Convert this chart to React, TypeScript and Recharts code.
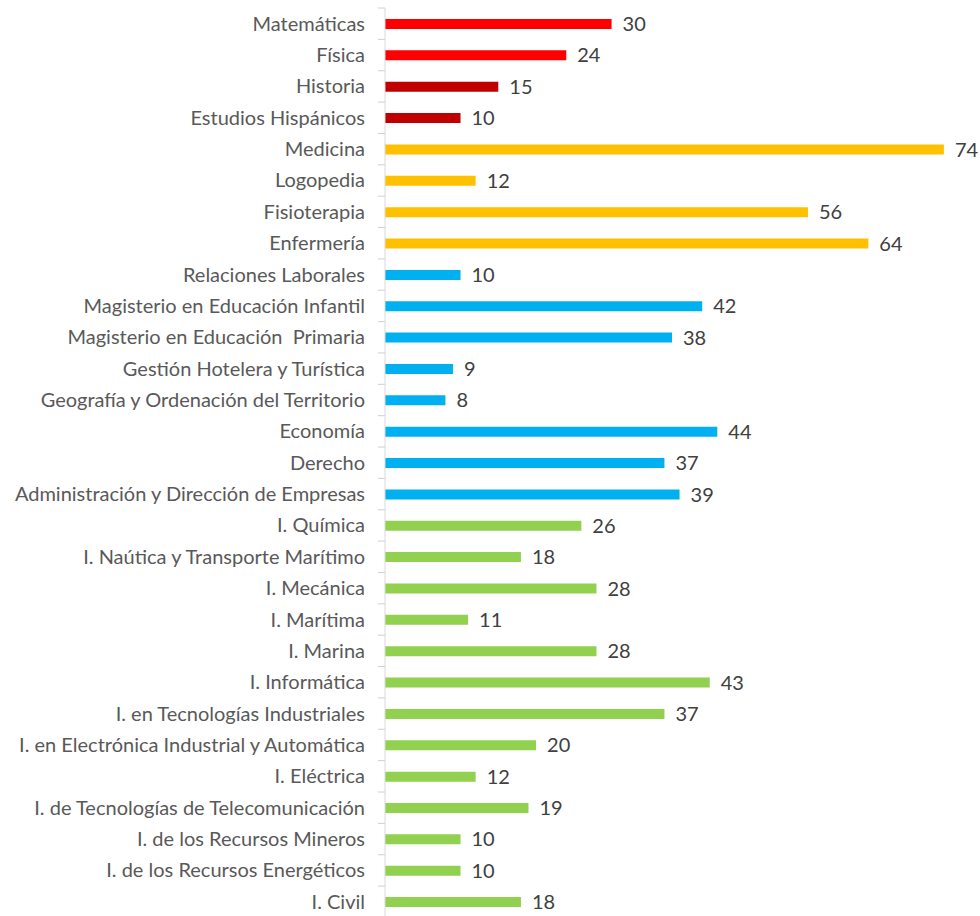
import { BarChart, Bar, XAxis, YAxis, Cell, LabelList } from 'recharts'

const categories = [
  'Matemáticas',
  'Física',
  'Historia',
  'Estudios Hispánicos',
  'Medicina',
  'Logopedia',
  'Fisioterapia',
  'Enfermería',
  'Relaciones Laborales',
  'Magisterio en Educación Infantil',
  'Magisterio en Educación  Primaria',
  'Gestión Hotelera y Turística',
  'Geografía y Ordenación del Territorio',
  'Economía',
  'Derecho',
  'Administración y Dirección de Empresas',
  'I. Química',
  'I. Naútica y Transporte Marítimo',
  'I. Mecánica',
  'I. Marítima',
  'I. Marina',
  'I. Informática',
  'I. en Tecnologías Industriales',
  'I. en Electrónica Industrial y Automática',
  'I. Eléctrica',
  'I. de Tecnologías de Telecomunicación',
  'I. de los Recursos Mineros',
  'I. de los Recursos Energéticos',
  'I. Civil',
]

const values = [30, 24, 15, 10, 74, 12, 56, 64, 10, 42, 38, 9, 8, 44, 37, 39, 26, 18, 28, 11, 28, 43, 37, 20, 12, 19, 10, 10, 18]

// area per category: ciencias, humanidades, salud, sociales, ingenierías
const groups = ['c', 'c', 'h', 'h', 's', 's', 's', 's', 'j', 'j', 'j', 'j', 'j', 'j', 'j', 'j',
  'i', 'i', 'i', 'i', 'i', 'i', 'i', 'i', 'i', 'i', 'i', 'i', 'i']

const groupColors: Record<string, string> = {
  c: '#FF0000',
  h: '#C00000',
  s: '#FFC000',
  j: '#00B0F0',
  i: '#92D050',
}

const data = categories.map((name, i) => ({ name, value: values[i], group: groups[i] }))

const FONT = 'Lato, "Open Sans", sans-serif'
const TOP = 8
const BAND = 31.36
const PLOT_H = BAND * categories.length
const HEIGHT = 940

function CategoryTick(props: any) {
  const { x, y, payload } = props
  return (
    <g>
      <line x1={x + 1} x2={x + 8} y1={y - BAND / 2} y2={y - BAND / 2} stroke="#D0D0D0" />
      <text
        x={x - 12}
        y={y}
        dy={7}
        textAnchor="end"
        fill="#595959"
        fontSize={20}
        fontFamily={FONT}
        style={{ whiteSpace: 'pre' }}
      >
        {payload.value}
      </text>
    </g>
  )
}

export default function App() {
  return (
    <div style={{ position: 'absolute', left: 0, top: 0, width: 980, height: 916, overflow: 'hidden', background: '#fff' }}>
      <BarChart
        width={980}
        height={HEIGHT}
        data={data}
        layout="vertical"
        barSize={10}
        margin={{ top: TOP, right: 21, bottom: HEIGHT - TOP - PLOT_H, left: 0 }}
      >
        <XAxis type="number" domain={[0, 76]} hide />
        <YAxis
          type="category"
          dataKey="name"
          width={385}
          interval={0}
          axisLine={{ stroke: '#D9D9D9' }}
          tickLine={false}
          tick={<CategoryTick />}
        />
        <Bar dataKey="value" isAnimationActive={false}>
          {data.map((d, i) => (
            <Cell key={i} fill={groupColors[d.group]} />
          ))}
          <LabelList
            dataKey="value"
            position="right"
            offset={11}
            fill="#404040"
            fontSize={20}
            fontFamily={FONT}
          />
        </Bar>
      </BarChart>
    </div>
  )
}
